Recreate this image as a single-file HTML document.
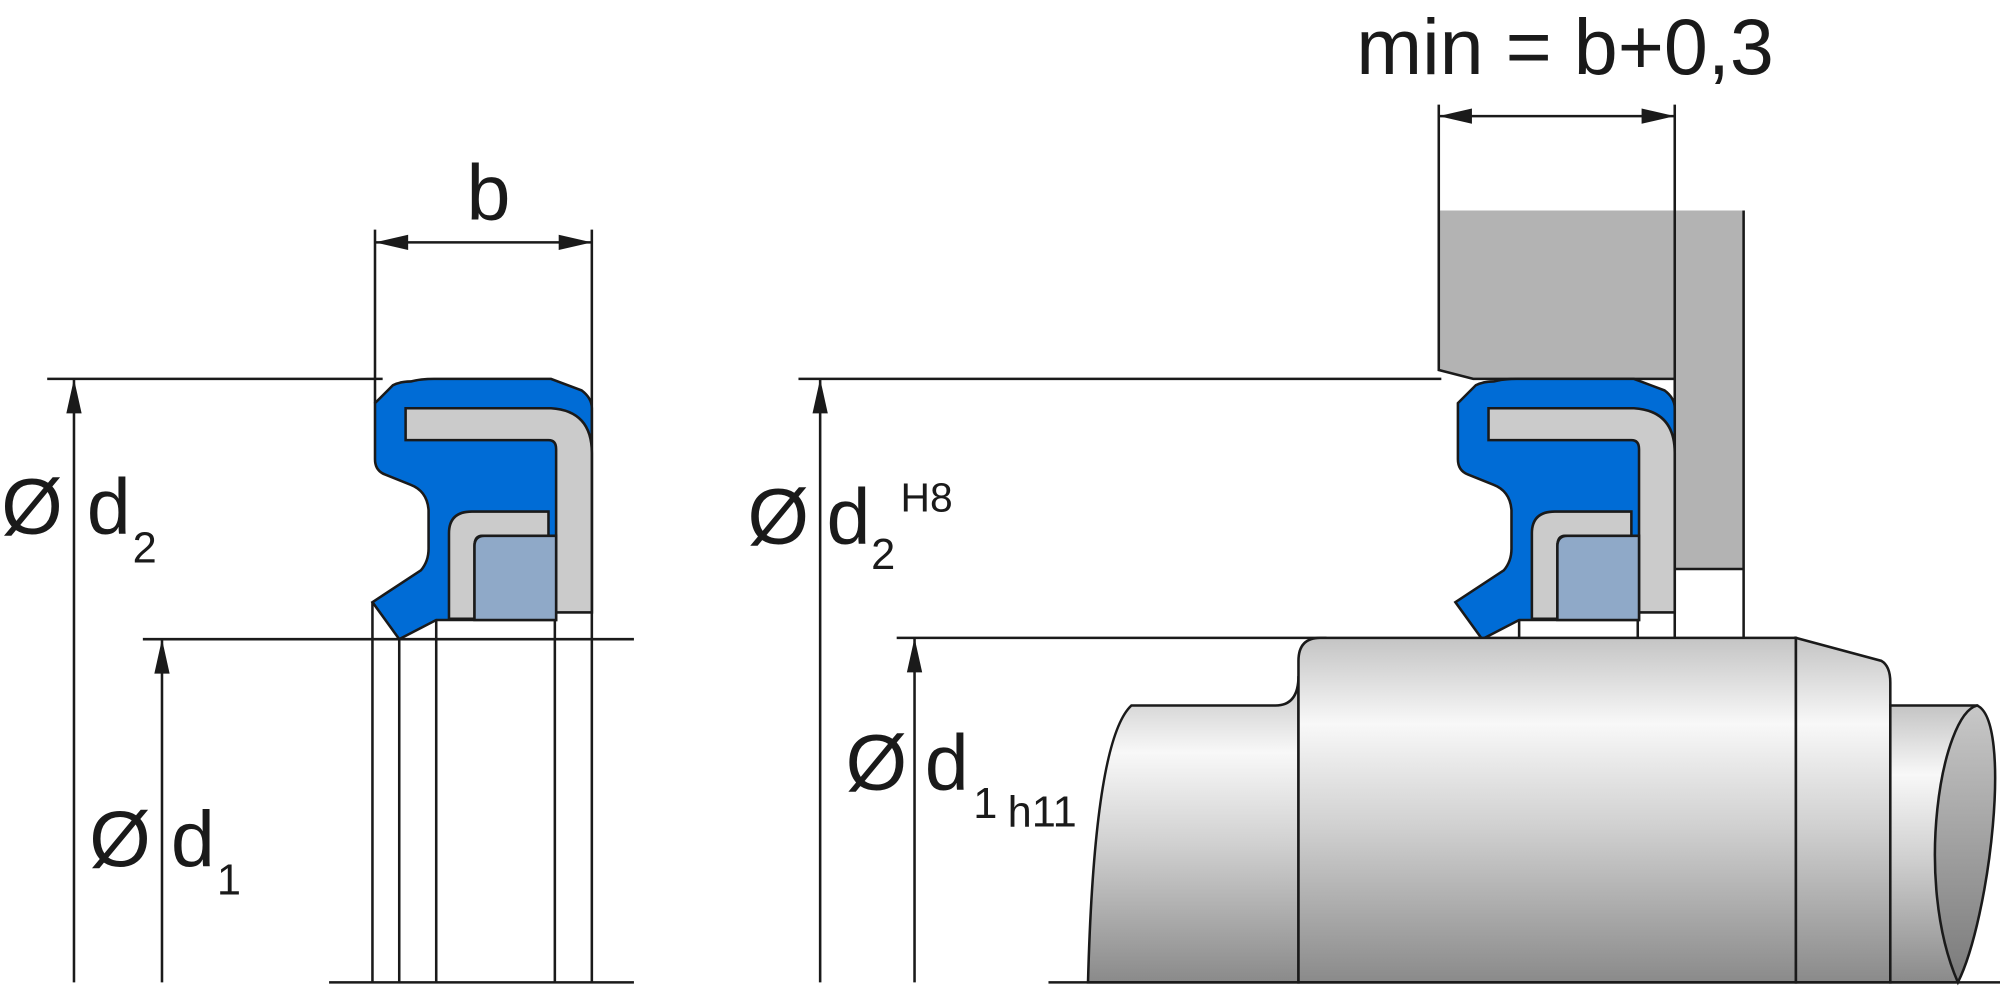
<!DOCTYPE html>
<html><head><meta charset="utf-8"><style>
html,body{margin:0;padding:0;background:#fff;}
svg{display:block;}
text{font-family:"Liberation Sans",Arial,sans-serif;fill:#1a1a1a;}
</style></head><body>
<svg width="2000" height="990" viewBox="0 0 1568 776" preserveAspectRatio="none" xmlns="http://www.w3.org/2000/svg">
<defs>
<linearGradient id="sh" x1="0" y1="0" x2="0" y2="1">
<stop offset="0" stop-color="#c4c4c4"/>
<stop offset="0.25" stop-color="#f8f8f8"/>
<stop offset="0.55" stop-color="#d0d0d0"/>
<stop offset="1" stop-color="#8a8a8a"/>
</linearGradient>
<linearGradient id="sh2" x1="0" y1="0" x2="0" y2="1">
<stop offset="0" stop-color="#c8c8c8"/>
<stop offset="1" stop-color="#7a7a7a"/>
</linearGradient>
<g id="seal">
<path d="M294,316 L308,302 Q314,299 322,299 Q330,297 340,297 L432,297 L456,306 Q464,312 464,320 L464,480 L436,480 L436,486 L342,486 L313,501 L292,472 L330,447 Q336,440 336,430 L336,400 Q335,385 322,380 L302,372 Q294,369 294,360 Z" fill="#006cd6" stroke="#1a1a1a" stroke-width="2"/>
<path d="M318,320 L432,320 Q464,322 464,355 L464,480 L436,480 L436,352 Q436,345 430,345 L318,345 Z" fill="#cbcbcb" stroke="#1a1a1a" stroke-width="2"/>
<path d="M352,485 L352,418 Q352,401 370,401 L430,401 L430,420 L378,420 Q372,420 372,428 L372,485 Z" fill="#cbcbcb" stroke="#1a1a1a" stroke-width="2"/>
<path d="M372,428 Q372,420 380,420 L436,420 L436,486 L372,486 Z" fill="#8fa9c8" stroke="#1a1a1a" stroke-width="2"/>
</g>
</defs>
<g stroke="#1a1a1a" stroke-width="2" fill="none">
<line x1="37" y1="297" x2="300" y2="297"/>
<line x1="58" y1="297" x2="58" y2="770"/>
<line x1="112" y1="501" x2="497" y2="501"/>
<line x1="127" y1="501" x2="127" y2="770"/>
<line x1="294" y1="180" x2="294" y2="316"/>
<line x1="464" y1="180" x2="464" y2="770"/>
<line x1="294" y1="190" x2="464" y2="190"/>
<line x1="292" y1="472" x2="292" y2="770"/>
<line x1="313" y1="501" x2="313" y2="770"/>
<line x1="342" y1="486" x2="342" y2="770"/>
<line x1="435" y1="486" x2="435" y2="770"/>
<line x1="258" y1="770" x2="497" y2="770"/>
<path d="M1128,165 L1367,165 L1367,446 L1313,446 L1313,297 L1155,297 L1128,290 Z" fill="#b3b3b3" stroke="none"/>
<path d="M1128,165 L1128,290 L1155,297 L1313,297"/>
<line x1="1128" y1="82" x2="1128" y2="165"/>
<line x1="1313" y1="82" x2="1313" y2="500"/>
<line x1="1367" y1="165" x2="1367" y2="500"/>
<line x1="1313" y1="446" x2="1367" y2="446"/>
<line x1="1128" y1="91" x2="1313" y2="91"/>
<line x1="626" y1="297" x2="1130" y2="297"/>
<line x1="643" y1="297" x2="643" y2="770"/>
<line x1="703" y1="500" x2="1040" y2="500"/>
<line x1="717" y1="500" x2="717" y2="770"/>
</g>
<g fill="#1a1a1a">
<polygon points="294,190 320,184 320,196"/>
<polygon points="464,190 438,184 438,196"/>
<polygon points="1128,91 1154,85 1154,97"/>
<polygon points="1313,91 1287,85 1287,97"/>
<polygon points="58,297 52,324 64,324"/>
<polygon points="127,501 121,528 133,528"/>
<polygon points="643,297 637,324 649,324"/>
<polygon points="717,500 711,527 723,527"/>
</g>
<use href="#seal" transform="translate(849,0)"/>
<use href="#seal"/>
<g stroke="#1a1a1a" stroke-width="2" fill="none">
<line x1="1191" y1="486" x2="1191" y2="500"/>
<line x1="1284" y1="486" x2="1284" y2="500"/>
</g>
<g stroke="#1a1a1a" stroke-width="2">
<path d="M887,553 L1000,553 Q1018,553 1018,530 L1018,770 L853,770 Q858,580 887,553 Z" fill="url(#sh)"/>
<path d="M1018,770 L1018,518 Q1018,500 1035,500 L1408,500 L1408,770 Z" fill="url(#sh)"/>
<path d="M1408,500 L1475,518 Q1482,522 1482,535 L1482,770 L1408,770 Z" fill="url(#sh)"/>
<path d="M1482,553 L1550,553 L1535,770 L1482,770 Z" fill="url(#sh)"/>
<path d="M1550,553 C1522,560 1500,690 1535,770 C1560,720 1578,565 1550,553 Z" fill="url(#sh2)"/>
<line x1="822" y1="770" x2="1568" y2="770"/>
</g>
<text x="383" y="172" font-size="62" text-anchor="middle">b</text>
<text x="1227" y="58" font-size="62" text-anchor="middle">min = b+0,3</text>
<text x="1" y="418" font-size="62">Ø</text>
<text x="68" y="418" font-size="62">d</text>
<text x="104" y="441" font-size="34">2</text>
<text x="70" y="679" font-size="62">Ø</text>
<text x="134" y="679" font-size="62">d</text>
<text x="170" y="701" font-size="34">1</text>
<text x="586" y="426" font-size="62">Ø</text>
<text x="648" y="426" font-size="62">d</text>
<text x="683" y="446" font-size="34">2</text>
<text x="706" y="401" font-size="32">H8</text>
<text x="663" y="619" font-size="62">Ø</text>
<text x="725" y="619" font-size="62">d</text>
<text x="763" y="641" font-size="34">1</text>
<text x="790" y="648" font-size="34">h11</text>
</svg>
</body></html>
